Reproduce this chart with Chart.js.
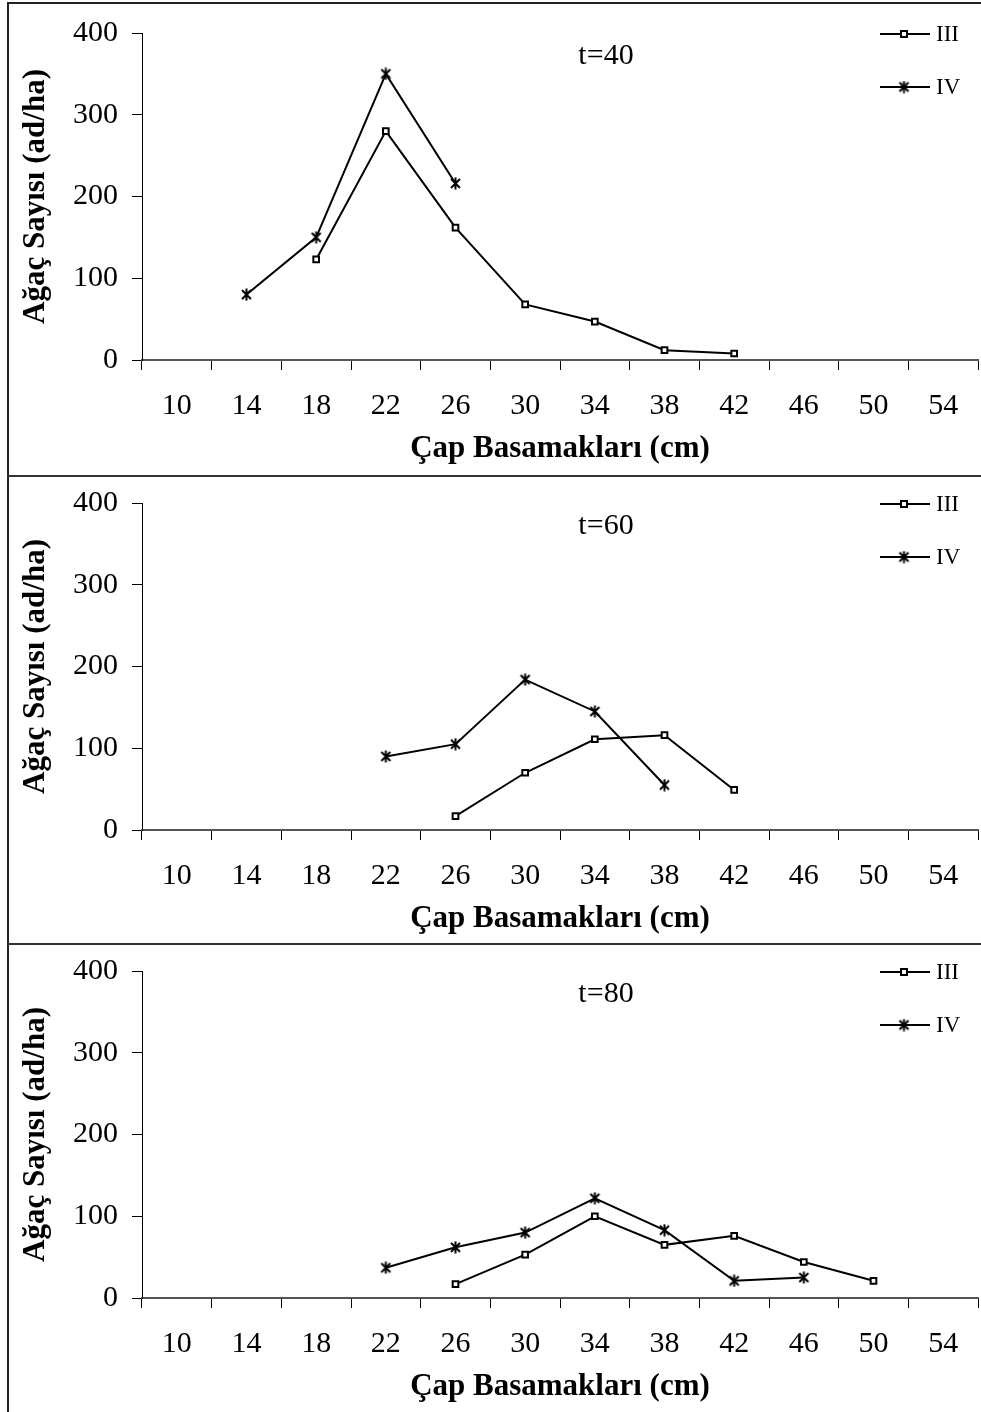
<!DOCTYPE html>
<html>
<head>
<meta charset="utf-8">
<title>Çap Basamakları</title>
<script src="https://cdn.jsdelivr.net/npm/chart.js@4.4.0/dist/chart.umd.min.js"></script>
<style>
  html, body { margin: 0; padding: 0; background: #fff; overflow: hidden; }
  #page { position: relative; width: 981px; height: 1412px; overflow: hidden; }
  .panel { position: absolute; left: 0; width: 986px; height: 475px; }
  .rule { position: absolute; background: #222; }
</style>
</head>
<body>
<div id="page">
  <div class="panel" style="top:1px"><canvas id="c40" width="986" height="475"></canvas></div>
  <div class="panel" style="top:471px"><canvas id="c60" width="986" height="475"></canvas></div>
  <div class="panel" style="top:939px"><canvas id="c80" width="986" height="475"></canvas></div>
  <!-- frame lines round the three panels -->
  <div class="rule" style="left:7px;top:2px;width:2px;height:1410px"></div>
  <div class="rule" style="left:7px;top:2px;width:974px;height:2px"></div>
  <div class="rule" style="left:7px;top:475px;width:974px;height:2px;background:#333"></div>
  <div class="rule" style="left:7px;top:943px;width:974px;height:2px;background:#333"></div>
</div>

<script>
// diameter classes (cm)
const categories = ["10", "14", "18", "22", "26", "30", "34", "38", "42", "46", "50", "54"];
const yTicks = [0, 100, 200, 300, 400];
const seriesNames = ["III", "IV"];

// t=40
const iii_t40 = [null, null, 123, 280, 162, 68, 47, 12, 8, null, null, null];
const iv_t40 = [null, 80, 150, 350, 216, null, null, null, null, null, null, null];
// t=60
const iii_t60 = [null, null, null, null, 17, 70, 111, 116, 49, null, null, null];
const iv_t60 = [null, null, null, 90, 105, 184, 145, 55, null, null, null, null];
// t=80
const iii_t80 = [null, null, null, null, 17, 53, 100, 65, 76, 44, 21, null];
const iv_t80 = [null, null, null, 37, 62, 80, 122, 83, 21, 25, null, null];

const FONT = "'Liberation Serif', 'Times New Roman', serif";

// asterisk marker like the excel one (X with a vertical bar)
function makeStar() {
  const c = document.createElement("canvas");
  c.width = 13; c.height = 13;
  const g = c.getContext("2d");
  g.strokeStyle = "#000";
  g.lineWidth = 2;
  g.beginPath();
  g.moveTo(2, 2); g.lineTo(11, 11);
  g.moveTo(11, 2); g.lineTo(2, 11);
  g.moveTo(6.5, 0.5); g.lineTo(6.5, 12.5);
  g.stroke();
  return c;
}
const starImg = makeStar();

// legend in the top right corner of the plot, line + marker + name
const cornerLegend = {
  id: "cornerLegend",
  afterDraw(chart) {
    const ctx = chart.ctx;
    const top = chart.chartArea.top;
    ctx.save();
    chart.data.datasets.forEach((ds, i) => {
      const y = top + 1 + i * 53;
      ctx.strokeStyle = "#000";
      ctx.lineWidth = 2;
      ctx.beginPath();
      ctx.moveTo(880, y);
      ctx.lineTo(930, y);
      ctx.stroke();
      if (ds.pointStyle === "rect") {
        ctx.fillStyle = "#fff";
        ctx.strokeStyle = "#000";
        ctx.lineWidth = 2;
        ctx.fillRect(901, y - 3, 6, 6);
        ctx.strokeRect(901, y - 3, 6, 6);
      } else {
        ctx.drawImage(starImg, 904 - 6.5, y - 6.5);
      }
      ctx.fillStyle = "#000";
      ctx.font = "23px " + FONT;
      ctx.textBaseline = "middle";
      ctx.textAlign = "left";
      ctx.fillText(ds.label, 936, y + 1);
    });
    ctx.restore();
  }
};

// "t=.." label inside the plot
const ageLabel = {
  id: "ageLabel",
  afterDraw(chart, args, opts) {
    const ctx = chart.ctx;
    ctx.save();
    ctx.fillStyle = "#000";
    ctx.font = "30px " + FONT;
    ctx.textAlign = "center";
    ctx.textBaseline = "alphabetic";
    ctx.fillText(opts.text, 606, chart.chartArea.top + 31);
    ctx.restore();
  }
};

function makeChart(id, title, iii, iv) {
  return new Chart(document.getElementById(id), {
    type: "line",
    data: {
      labels: categories,
      datasets: [
        {
          label: seriesNames[0],
          data: iii,
          borderColor: "#000",
          borderWidth: 2,
          pointStyle: "rect",
          pointRadius: 4,
          pointBorderWidth: 2,
          pointBackgroundColor: "#fff",
          pointBorderColor: "#000",
          tension: 0,
          spanGaps: false
        },
        {
          label: seriesNames[1],
          data: iv,
          borderColor: "#000",
          borderWidth: 2,
          pointStyle: starImg,
          pointRadius: 6,
          tension: 0,
          spanGaps: false
        }
      ]
    },
    options: {
      responsive: false,
      animation: false,
      events: [],
      layout: { padding: { top: 32, right: 0, bottom: 0, left: 0 } },
      plugins: {
        legend: { display: false },
        tooltip: { enabled: false },
        ageLabel: { text: title }
      },
      scales: {
        x: {
          offset: true,
          grid: {
            offset: true,
            drawOnChartArea: false,
            tickLength: 10,
            color: "#000",
            lineWidth: 1
          },
          border: { color: "#555", width: 2 },
          ticks: {
            autoSkip: false,
            maxRotation: 0,
            padding: 18,
            color: "#000",
            font: { family: FONT, size: 30 }
          },
          title: {
            display: true,
            text: "Çap Basamakları (cm)",
            color: "#000",
            font: { family: FONT, size: 31, weight: "bold" },
            padding: { top: 0, bottom: 8 }
          },
          afterFit: (s) => { s.height = 116; }
        },
        y: {
          min: 0,
          max: 400,
          afterBuildTicks: (s) => { s.ticks = yTicks.map((v) => ({ value: v })); },
          grid: {
            drawOnChartArea: false,
            tickLength: 10,
            color: "#000",
            lineWidth: 1
          },
          border: { color: "#000", width: 1 },
          ticks: {
            padding: 14,
            color: "#000",
            font: { family: FONT, size: 30 }
          },
          title: {
            display: true,
            text: "Ağaç Sayısı (ad/ha)",
            color: "#000",
            font: { family: FONT, size: 31, weight: "bold" },
            padding: { top: 17, bottom: 0 }
          },
          afterFit: (s) => { s.width = 142; }
        }
      }
    },
    plugins: [cornerLegend, ageLabel]
  });
}

makeChart("c40", "t=40", iii_t40, iv_t40);
makeChart("c60", "t=60", iii_t60, iv_t60);
makeChart("c80", "t=80", iii_t80, iv_t80);
</script>
</body>
</html>
